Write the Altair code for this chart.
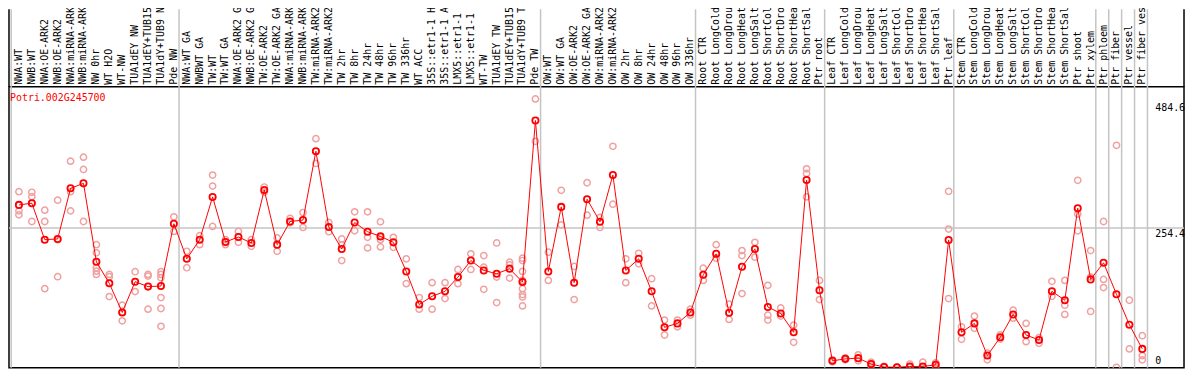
import altair as alt
import pandas as pd

gene = "Potri.002G245700"

labels = [
    "NWA:WT", "NWB:WT", "NWA:OE-ARK2", "NWB:OE-ARK2", "NWA:miRNA-ARK2", "NWB:miRNA-ARK2",
    "NW 0hr", "WT H2O", "WT-NW", "TUA1dEY NW", "TUA1dEY+TUB15 NW", "TUA1dY+TUB9 NW", "Pde NW",
    "NWA:WT GA", "NWBWT GA", "TW:WT", "TW:WT GA", "NWA:OE-ARK2 GA", "NWB:OE-ARK2 GA",
    "TW:OE-ARK2", "TW:OE-ARK2 GA", "NWA:miRNA-ARK2", "NWB:miRNA-ARK2", "TW:miRNA-ARK2",
    "TW:miRNA-ARK2", "TW 2hr", "TW 8hr", "TW 24hr", "TW 48hr", "TW 96hr", "TW 336hr", "WT ACC",
    "35S::etr1-1 H2O", "35S::etr1-1 ACC", "LMX5::etr1-1 H2O", "LMX5::etr1-1 ACC", "WT-TW",
    "TUA1dEY TW", "TUA1dEY+TUB15 TW", "TUA1dY+TUB9 TW", "Pde TW",
    "OW:WT", "OW:WT GA", "OW:OE-ARK2", "OW:OE-ARK2 GA", "OW:miRNA-ARK2", "OW:miRNA-ARK2",
    "OW 2hr", "OW 8hr", "OW 24hr", "OW 48hr", "OW 96hr", "OW 336hr",
    "Root CTR", "Root LongCold", "Root LongDrought", "Root LongHeat", "Root LongSalt",
    "Root ShortCold", "Root ShortDrought", "Root ShortHeat", "Root ShortSalt", "Ptr root",
    "Leaf CTR", "Leaf LongCold", "Leaf LongDrought", "Leaf LongHeat", "Leaf LongSalt",
    "Leaf ShortCold", "Leaf ShortDrought", "Leaf ShortHeat", "Leaf ShortSalt", "Ptr leaf",
    "Stem CTR", "Stem LongCold", "Stem LongDrought", "Stem LongHeat", "Stem LongSalt",
    "Stem ShortCold", "Stem ShortDrought", "Stem ShortHeat", "Stem ShortSalt", "Ptr shoot",
    "Ptr xylem", "Ptr phloem", "Ptr fiber", "Ptr vessel", "Ptr fiber vessel",
]

means = [
    296.7, 299.8, 233.2, 234.5, 327.0, 336.1, 192.7, 153.4, 100.2, 156.4,
    147.4, 148.5, 262.3, 198.2, 233.2, 311.3, 229.0, 238.1, 227.2, 324.0,
    224.1, 266.4, 269.0, 394.7, 256.3, 216.3, 264.6, 247.7, 239.2, 228.3,
    175.1, 114.7, 129.8, 138.8, 164.8, 195.1, 177.0, 171.0, 180.0, 155.7,
    451.0, 175.1, 293.1, 154.6, 307.1, 265.9, 351.2, 177.0, 198.2, 138.8,
    73.0, 80.2, 100.2, 169.1, 207.3, 99.5, 183.7, 216.3, 110.3, 98.4,
    63.9, 342.1, 140.7, 11.8, 15.4, 16.7, 5.8, 0.5, 0.2, 1.5,
    1.5, 4.5, 232.7, 63.9, 80.2, 21.4, 54.8, 96.6, 59.0, 49.9,
    138.8, 122.5, 290.7, 160.6, 190.9, 133.4, 77.7, 33.6,
]

reps = [
    [320.9, 285.8, 278.6], [319.8, 311.8, 266.4], [287.1, 266.4, 143.7], [305.3, 233.2, 165.5],
    [376.6, 320.9, 285.8], [384.0, 361.5, 266.4], [224.1, 209.1, 181.9, 175.7, 169.7],
    [169.7, 165.5, 129.2], [113.4, 100.7, 84.9], [174.6, 138.3],
    [169.7, 166.6, 106.2], [174.6, 169.7, 163.7, 127.4, 107.4, 74.8], [275.0, 248.3],
    [212.0, 181.9], [240.5, 224.1], [351.2, 331.2, 257.3], [233.2, 224.1], [248.3, 228.3],
    [233.2, 221.1], [329.4, 320.3],
    [236.3, 212.0], [272.2, 264.1], [282.8, 255.5], [417.8, 372.4], [264.6, 247.7],
    [234.5, 223.6, 195.1], [284.0, 249.5], [284.0, 237.4, 218.1], [265.9, 233.2, 220.0],
    [237.4, 219.2],
    [198.2, 152.8], [127.4, 106.2], [154.6, 106.2], [154.6, 125.6], [178.8, 152.8],
    [207.3, 178.8], [204.2, 182.9, 142.5], [227.2, 164.8, 118.3], [192.0, 187.3, 163.0],
    [199.3, 195.1, 175.1, 158.8, 143.7, 132.8, 128.5, 112.2],
    [490.4, 412.9], [210.2, 158.8], [323.4, 260.4], [184.2, 123.8], [337.2, 278.0],
    [273.7, 255.5], [403.8, 298.0], [198.2, 154.6], [208.3, 189.1], [161.9, 112.2],
    [86.2, 59.0], [86.2, 74.0], [106.2, 95.3], [181.1, 158.8], [224.1, 199.3],
    [115.2, 87.5], [213.2, 204.2, 134.7], [228.3, 201.1], [149.7, 95.3, 86.2], [108.5, 93.5],
    [77.1, 45.7], [362.6, 354.3, 311.3], [158.8, 123.8], [13.6, 10.0], [17.2, 13.6],
    [22.7, 11.8], [9.4, 2.7], [1.8, 0.0], [0.0, 0.0], [5.8, 0.0],
    [9.4, 0.0], [8.2, 0.9], [321.6, 252.6, 125.6], [74.0, 51.2], [93.5, 71.1],
    [25.8, 13.6], [59.0, 51.7], [104.4, 89.8], [80.2, 46.8], [54.1, 43.9],
    [157.0, 129.8], [158.8, 113.4, 96.6], [341.7, 279.9, 249.5], [213.2, 164.8, 102.0],
    [266.4, 160.6, 145.6], [405.6, 0.0], [122.5, 33.6], [57.7, 21.4, 13.6],
]

group_starts = [0, 13, 41, 53, 63, 73, 84, 85, 86, 87, 88]
y_ticks = [484.6, 254.4]
y_zero = [0]

FONT = "DejaVu Sans Mono"
W, H = 1183, 283
TOP = 78

df_mean = pd.DataFrame({"i": list(range(len(means))), "label": labels, "mean": means})
df_rep = pd.DataFrame([{"i": i, "v": v} for i, r in enumerate(reps) for v in r])

xs = alt.Scale(domain=[-0.769, 90.231], nice=False, zero=False)
ys = alt.Scale(domain=[-0.91, 512.7], nice=False, zero=False)

seps = alt.Chart(pd.DataFrame({"g": group_starts})).transform_calculate(
    pos="datum.g - 0.6"
).mark_rule(color="#c4c4c4", strokeWidth=1.5).encode(
    x=alt.X("pos:Q", scale=xs, axis=None), y=alt.value(-TOP), y2=alt.value(H)
)

hgrid = alt.Chart(pd.DataFrame({"t": y_ticks[1:]})).mark_rule(
    color="#c4c4c4", strokeWidth=1.5
).encode(y=alt.Y("t:Q", scale=ys, axis=None), x=alt.value(0), x2=alt.value(W))

left_b = alt.Chart(pd.DataFrame({"a": [0]})).mark_rule(color="black", strokeWidth=1.5).encode(
    x=alt.value(0), y=alt.value(-TOP), y2=alt.value(0)
)
right_b = alt.Chart(pd.DataFrame({"a": [0]})).mark_rule(color="black", strokeWidth=1.5).encode(
    x=alt.value(W), y=alt.value(-TOP), y2=alt.value(0)
)

rep_pts = alt.Chart(df_rep).mark_point(
    shape="circle", filled=False, color="#f0a0a0", size=40, strokeWidth=1.5, clip=True, opacity=1
).encode(x=alt.X("i:Q", scale=xs, axis=None), y=alt.Y("v:Q", scale=ys, axis=None))

line = alt.Chart(df_mean).mark_line(color="#ff0000", strokeWidth=1, clip=True).encode(
    x=alt.X("i:Q", scale=xs, axis=None), y=alt.Y("mean:Q", scale=ys, axis=None)
)

mean_pts = alt.Chart(df_mean).mark_point(
    shape="circle", filled=False, color="#ff0000", size=40, strokeWidth=1.8, clip=True, opacity=1
).encode(x=alt.X("i:Q", scale=xs, axis=None), y=alt.Y("mean:Q", scale=ys, axis=None))

sample_text = alt.Chart(df_mean).mark_text(
    angle=270, align="left", baseline="middle", font=FONT, fontSize=10, color="black"
).encode(x=alt.X("i:Q", scale=xs, axis=None), y=alt.value(-2), text="label:N")

title_text = alt.Chart(pd.DataFrame({"t": [gene]})).mark_text(
    align="left", baseline="middle", font=FONT, fontSize=10, color="#ff0000"
).encode(x=alt.value(1), y=alt.value(11), text="t:N")

tick_text = alt.Chart(pd.DataFrame({"t": y_ticks})).mark_text(
    align="left", baseline="top", font=FONT, fontSize=10, color="black", dy=1
).encode(x=alt.value(1154), y=alt.Y("t:Q", scale=ys, axis=None), text=alt.Text("t:Q", format=".1f"))

zero_text = alt.Chart(pd.DataFrame({"t": y_zero})).mark_text(
    align="left", baseline="alphabetic", font=FONT, fontSize=10, color="black", dy=-3
).encode(x=alt.value(1154), y=alt.Y("t:Q", scale=ys, axis=None), text=alt.Text("t:Q", format="d"))

chart = alt.layer(
    seps, hgrid, left_b, right_b, rep_pts, line, mean_pts, sample_text, title_text, tick_text, zero_text
).properties(
    width=W, height=H,
    autosize=alt.AutoSizeParams(type="none"),
    padding={"left": 1, "top": TOP, "right": 2, "bottom": 1},
    background="white",
).configure_view(stroke="black", strokeWidth=1.5)

chart.save("out.html", embed_options={"renderer": "svg", "actions": False})
